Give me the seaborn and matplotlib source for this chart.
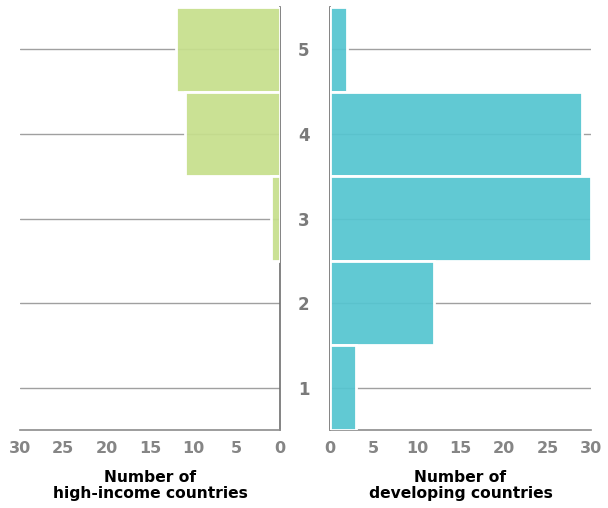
import matplotlib
matplotlib.use("Agg")
import matplotlib.pyplot as plt
import seaborn as sns
import pandas as pd
from matplotlib.colors import to_rgba

categories = ["5", "4", "3", "2", "1"]
high_income = [12, 11, 1, 0, 0]
developing = [2, 29, 30, 12, 3]
x_ticks = [0, 5, 10, 15, 20, 25, 30]

sns.set_theme(style="white")
plt.rcParams['font.family'] = ['DejaVu Sans']

GREEN = "#c6df8c"
TEAL = "#55c5d0"
GRID = "#a0a0a0"
TICKC = "#858585"

df = pd.DataFrame({"cat": categories, "high": high_income, "dev": developing})

fig = plt.figure(figsize=(6.08, 5.08), dpi=100)
W, H = 608, 508
ax1 = fig.add_axes([20 / W, (H - 430) / H, 260 / W, 423 / H])
ax2 = fig.add_axes([330 / W, (H - 430) / H, 261 / W, 423 / H])

sns.barplot(data=df, x="high", y="cat", order=categories, orient="h",
            color=GREEN, width=1.0, ax=ax1, saturation=1)
sns.barplot(data=df, x="dev", y="cat", order=categories, orient="h",
            color=TEAL, width=1.0, ax=ax2, saturation=1)

for ax, col in ((ax1, GREEN), (ax2, TEAL)):
    for p in ax.patches:
        p.set_facecolor(to_rgba(col, 0.93))
        p.set_edgecolor("white")
        p.set_linewidth(2.0 if p.get_width() != 0 else 0)
        p.set_zorder(3)
    ax.set_ylim(4.5, -0.5)
    ax.set_yticks(range(len(categories)))
    ax.set_xticks(x_ticks)
    ax.set_xticklabels([str(t) for t in x_ticks], fontsize=11.5,
                       fontweight="bold", color=TICKC)
    ax.tick_params(axis="x", direction="in", length=4, width=1,
                   color=TICKC, pad=8)
    ax.grid(axis="y", color=GRID, linewidth=1, zorder=1)
    ax.grid(axis="x", visible=False)
    ax.set_axisbelow(True)
    for s in ax.spines.values():
        s.set_color("#8c8c8c")
        s.set_linewidth(1.2)
    ax.spines["top"].set_visible(False)
    ax.set_ylabel("")

ax1.set_xlim(30, 0)
ax2.set_xlim(0, 30)

ax1.spines["left"].set_visible(False)
ax1.spines["right"].set_color("#6e6e6e")
ax1.tick_params(axis="y", length=0, labelleft=False)

ax2.spines["right"].set_visible(False)
ax2.spines["left"].set_color("#6e6e6e")
ax2.set_yticklabels(categories, fontsize=12, fontweight="bold",
                    color="#7a7a7a", ha="center")
ax2.tick_params(axis="y", length=0, pad=19)

ax1.set_xlabel("Number of\nhigh-income countries", fontsize=11.2,
               fontweight="bold", color="black", labelpad=10, linespacing=1.05)
ax2.set_xlabel("Number of\ndeveloping countries", fontsize=11.2,
               fontweight="bold", color="black", labelpad=10, linespacing=1.05)

fig.savefig("out.png", dpi=100, facecolor="white")
